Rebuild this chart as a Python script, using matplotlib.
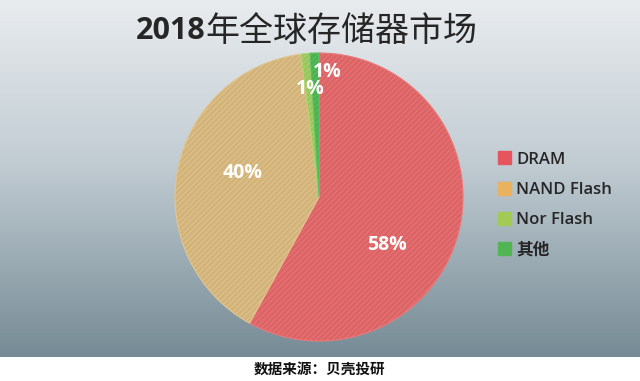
import numpy as np
import matplotlib
matplotlib.use("Agg")
import matplotlib.pyplot as plt
from matplotlib.patches import Patch

plt.rcParams['font.family'] = ['Noto Sans CJK SC', 'DejaVu Sans']
plt.rcParams['hatch.linewidth'] = 0.6

categories = ["DRAM", "NAND Flash", "Nor Flash", "其他"]
values = [58, 40, 1, 1]
pct_labels = ["58%", "40%", "1%", "1%"]
title_year = "2018"
title_rest = "年全球存储器市场"
source = "数据来源：贝壳投研"

face_colors = ["#DD6466", "#D2B37A", "#98C65C", "#4DB153"]
hatch_colors = ["#E9797A", "#E2C691", "#ACD672", "#5FBF63"]
legend_colors = ["#E5555D", "#E8B25E", "#A2CB55", "#52B554"]
label_pos = [(0.47, -0.33), (-0.53, 0.17), (-0.06, 0.75), (0.055, 0.87)]

W, H = 640, 381
fig = plt.figure(figsize=(W / 100, H / 100), dpi=100)
fig.patch.set_facecolor("white")

# gradient background
bg = fig.add_axes([0, 24 / H, 1, 357 / H])
bg.set_axis_off()
top = np.array([0xE9, 0xEC, 0xEF]) / 255
mid = np.array([0xC2, 0xCD, 0xD3]) / 255
bot = np.array([0x76, 0x8B, 0x95]) / 255
t = np.linspace(0, 1, 256)[:, None]
grad = np.where(t < 0.45, top + (mid - top) * (t / 0.45), mid + (bot - mid) * ((t - 0.45) / 0.55))
bg.imshow(grad[:, None, :], aspect="auto", extent=[0, 1, 0, 1])

# pie
cx, cy, r = 319, 197, 144
ax = fig.add_axes([(cx - r) / W, (H - cy - r) / H, 2 * r / W, 2 * r / H])
ax.set_axis_off()
wedges, _ = ax.pie(values, startangle=90, counterclock=False, radius=1,
                   colors=face_colors,
                   wedgeprops=dict(linewidth=0.8))
for w, hc in zip(wedges, hatch_colors):
    w.set_hatch("//////")
    w.set_edgecolor(hc)
ax.set_xlim(-1, 1)
ax.set_ylim(-1, 1)
for lab, (x, y) in zip(pct_labels, label_pos):
    ax.text(x, y, lab, color="white", fontsize=14, fontweight="bold",
            ha="center", va="center", family=["Open Sans", "DejaVu Sans"])

# title: bold year + regular chinese
split_x = 205 / W
fig.text(split_x, 1 - 31 / H, title_year, fontsize=22, fontweight="bold",
         color="#262626", ha="right", va="center", family=["Open Sans", "DejaVu Sans"])
fig.text(split_x, 1 - 31 / H, title_rest, fontsize=24.5, fontweight="medium",
         color="#262626", ha="left", va="center")

# legend
handles = [Patch(facecolor=c, edgecolor=c) for c in legend_colors]
leg = fig.legend(handles, categories, loc="center left",
                 bbox_to_anchor=(483 / W, 1 - 205 / H), frameon=False,
                 handlelength=0.8, handleheight=0.8,
                 handletextpad=0.3, labelspacing=0.85,
                 prop={"family": ["Open Sans", "Noto Sans CJK SC"], "size": 12, "weight": "semibold"})
for txt in leg.get_texts():
    txt.set_color("#262626")

# source
fig.text(320 / W, 1 - 369 / H, source, fontsize=10.5, fontweight="bold",
         color="#111111", ha="center", va="center")

fig.savefig("out.png", dpi=100)
